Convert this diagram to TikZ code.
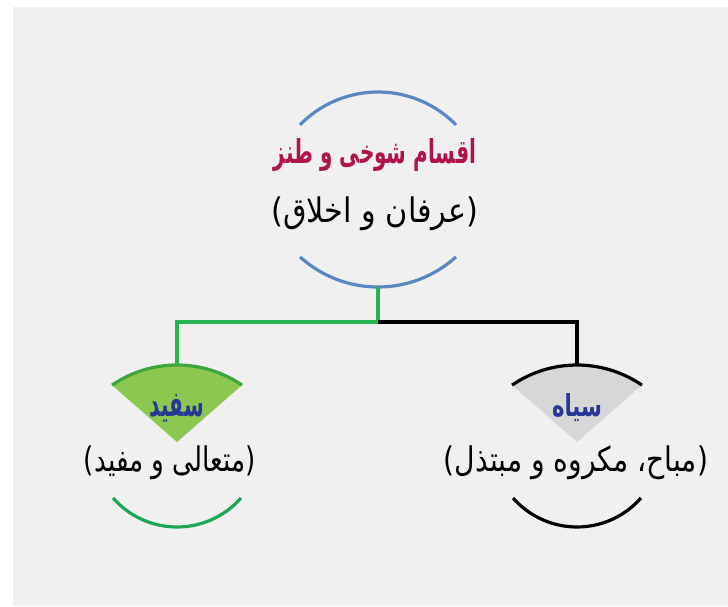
\documentclass[tikz,border=0pt]{standalone}
\usepackage{fontspec}
\usepackage{graphicx}
\TeXXeTstate=1
\newfontfamily\arabicfont[Script=Arabic]{DejaVu Sans}
\definecolor{bgc}{RGB}{240,240,240}
\definecolor{arcblue}{RGB}{90,135,195}
\definecolor{linkgreen}{RGB}{40,180,80}
\definecolor{wedgegreen}{RGB}{140,200,80}
\definecolor{wedgestroke}{RGB}{60,165,60}
\definecolor{lowgreen}{RGB}{30,165,85}
\definecolor{wedgegray}{RGB}{215,215,215}
\definecolor{titlered}{RGB}{175,20,75}
\definecolor{labblue}{RGB}{40,55,150}
\tikzset{
  ring/.style={line width=3.2pt},
  link/.style={line width=3.5pt},
  txt/.style={inner sep=0pt, font=\arabicfont},
}
\begin{document}
\begin{tikzpicture}[x=1pt,y=1pt]
\useasboundingbox (0,0) rectangle (728,-606);
\fill[white] (0,0) rectangle (728,-606);
\fill[bgc] (13,-7) rectangle (728,-606);
% top circle
\coordinate (tc1) at (378,-201);
\coordinate (tc2) at (378,-171);
\draw[ring, arcblue] ([shift={(44.3:109)}]tc1) arc[start angle=44.3, end angle=135.7, radius=109];
\draw[ring, arcblue] ([shift={(227.8:116)}]tc2) arc[start angle=227.8, end angle=312.2, radius=116];
\coordinate (topb) at (378,-287);
\coordinate (split) at (378,-322);
% left node
\coordinate (lc1) at (177,-480);
\coordinate (ltip) at (177,-442);
\coordinate (ltop) at (177,-365);
\fill[wedgegreen] (ltip) -- ([shift={(55.6:115)}]lc1) arc[start angle=55.6, end angle=124.4, radius=115] -- cycle;
\draw[ring, wedgestroke] ([shift={(55.6:115)}]lc1) arc[start angle=55.6, end angle=124.4, radius=115];
\draw[ring, lowgreen] ([shift={(221.2:85)}]ltip) arc[start angle=221.2, end angle=318.8, radius=85];
% right node
\coordinate (rc1) at (577,-480);
\coordinate (rtip) at (577,-442);
\coordinate (rtop) at (577,-365);
\fill[wedgegray] (rtip) -- ([shift={(55.6:115)}]rc1) arc[start angle=55.6, end angle=124.4, radius=115] -- cycle;
\draw[ring, black] ([shift={(55.6:115)}]rc1) arc[start angle=55.6, end angle=124.4, radius=115];
\draw[ring, black] ([shift={(221.2:85)}]rtip) arc[start angle=221.2, end angle=318.8, radius=85];
% connectors
\draw[link, linkgreen] (topb) -- (split) -| (ltop);
\draw[link, black] (split) -| (rtop);
% texts
\node[txt, text=titlered] (title) at (375,-155) {\resizebox*{202pt}{33pt}{\bfseries\beginR اقسام شوخی و طنز\endR}};
\node[txt] (sub) at (375,-214) {\resizebox*{207pt}{34pt}{)\beginR عرفان و اخلاق\endR(}};
\node[txt, text=labblue] (lab1) at (177,-408) {\resizebox*{54pt}{28pt}{\bfseries\beginR سفید\endR}};
\node[txt] (sub1) at (170,-463) {\resizebox*{172pt}{34pt}{)\beginR متعالی و مفید\endR(}};
\node[txt, text=labblue] (lab2) at (577,-408) {\resizebox*{50pt}{28pt}{\bfseries\beginR سیاه\endR}};
\node[txt] (sub2) at (576,-463) {\resizebox*{264pt}{34pt}{)\beginR مباح، مکروه و مبتذل\endR(}};
\end{tikzpicture}
\end{document}
